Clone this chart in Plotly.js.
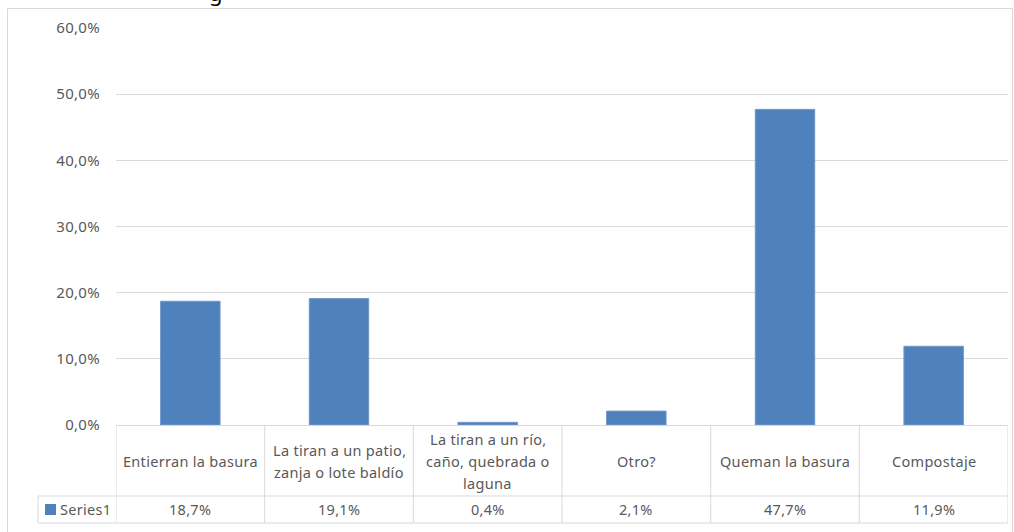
<!DOCTYPE html>
<html><head><meta charset="utf-8">
<script src="https://cdn.plot.ly/plotly-3.0.1.min.js"></script>
<style>html,body{margin:0;padding:0;background:#fff} svg text{letter-spacing:0.3px}</style>
</head><body>
<div id="chart" style="width:1014px;height:532px"></div>
<script>
const categories = ["Entierran la basura", "La tiran a un patio,<br>zanja o lote baldío", "La tiran a un río,<br>caño, quebrada o<br>laguna", "Otro?", "Queman la basura", "Compostaje"];
const values = [0.187, 0.191, 0.004, 0.021, 0.477, 0.119];
const valueLabels = ["18,7%", "19,1%", "0,4%", "2,1%", "47,7%", "11,9%"];
const seriesName = "Series1";
const yTickVals = [0, 0.1, 0.2, 0.3, 0.4, 0.5, 0.6];
const titleFragment = "g";

const W = 1014, H = 532;
const L = 116, R = 1008, T = 28, B = 425;
const px2x = p => (p - L) / (R - L);
const py2y = p => (B - p) / (B - T);
const gridC = '#d9d9d9';
const txtC = '#595959';
const fontFam = 'Noto Sans, Liberation Sans, sans-serif';
const barC = '#4f81bd';
const tSize = 14.5;

const shapes = [];
const annotations = [];
const n = categories.length;

// outer chart border
shapes.push({type:'rect', xref:'paper', yref:'paper', x0:px2x(7.5), x1:px2x(1012.5), y0:py2y(545), y1:py2y(8.5), line:{color:gridC, width:1}, layer:'below'});

// table: horizontal lines
const rowSep = 496, rowBot = 523, legendLeft = 38;
shapes.push({type:'line', xref:'paper', yref:'paper', x0:px2x(legendLeft), x1:1, y0:py2y(rowSep), y1:py2y(rowSep), line:{color:gridC, width:1}});
shapes.push({type:'line', xref:'paper', yref:'paper', x0:px2x(legendLeft), x1:1, y0:py2y(rowBot), y1:py2y(rowBot), line:{color:gridC, width:1}});
shapes.push({type:'line', xref:'paper', yref:'paper', x0:px2x(legendLeft), x1:px2x(legendLeft), y0:py2y(rowSep), y1:py2y(rowBot), line:{color:gridC, width:1}});
// vertical separators between categories
for (let i = 0; i <= n; i++) {
  shapes.push({type:'line', xref:'x', yref:'paper', x0:i - 0.5, x1:i - 0.5, y0:0, y1:py2y(rowBot), line:{color:gridC, width:1}});
}
// legend key square
shapes.push({type:'rect', xref:'paper', yref:'paper', x0:px2x(45), x1:px2x(56), y0:py2y(515), y1:py2y(504), fillcolor:barC, line:{width:0}});
annotations.push({xref:'paper', yref:'paper', x:px2x(58), y:py2y(509.5), text:seriesName, showarrow:false, xanchor:'left', yanchor:'middle', font:{family:fontFam, size:tSize, color:txtC}});

// header row labels (each line placed separately for Excel-like line spacing)
const lineSp = 21.5, headCenter = 461;
categories.forEach((c, i) => {
  const lines = c.split('<br>');
  lines.forEach((ln, k) => {
    const py = headCenter + (k - (lines.length - 1) / 2) * lineSp;
    annotations.push({xref:'x', yref:'paper', x:i, y:py2y(py), text:ln, showarrow:false, xanchor:'center', yanchor:'middle', font:{family:fontFam, size:tSize, color:txtC}});
  });
  annotations.push({xref:'x', yref:'paper', x:i, y:py2y(509.5), text:valueLabels[i], showarrow:false, xanchor:'center', yanchor:'middle', font:{family:fontFam, size:tSize, color:txtC}});
});

// title fragment, cut off at the top edge as in the source image
annotations.push({xref:'paper', yref:'paper', x:px2x(216), y:py2y(-8), text:titleFragment, showarrow:false, xanchor:'center', yanchor:'middle', font:{family:fontFam, size:22, color:'#000'}});

const trace = {
  type:'bar', x:categories.map((c, i) => i), y:values, name:seriesName,
  marker:{color:barC, line:{color:'#7396c9', width:1}},
  hoverinfo:'skip'
};

const layout = {
  width:W, height:H,
  margin:{l:L, r:W - R, t:T, b:H - B, pad:0},
  paper_bgcolor:'#fff', plot_bgcolor:'#fff',
  separators:',.',
  showlegend:false,
  bargap:0.6,
  xaxis:{range:[-0.5, n - 0.5], showticklabels:false, showgrid:false, zeroline:false, showline:false, ticks:'', fixedrange:true},
  yaxis:{range:[0, 0.6], tickvals:yTickVals, tickformat:'.1%', showgrid:true, gridcolor:gridC, gridwidth:1,
         zeroline:true, zerolinecolor:gridC, zerolinewidth:1, showline:false, ticks:'',
         ticklabelstandoff:15, tickfont:{family:fontFam, size:15, color:txtC}, fixedrange:true},
  shapes:shapes,
  annotations:annotations
};

Plotly.newPlot('chart', [trace], layout, {staticPlot:true, displayModeBar:false});
</script>
</body></html>
